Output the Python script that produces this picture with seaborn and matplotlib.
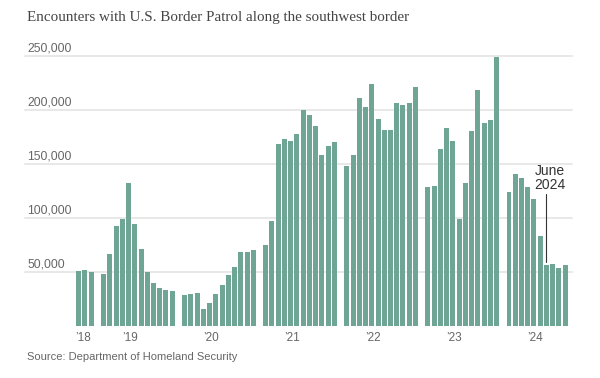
import pandas as pd
import seaborn as sns
import matplotlib.pyplot as plt
import matplotlib.transforms as mtransforms

# Monthly encounters (Oct 2018 - Oct 2024)
years = ["2018", "2019", "2020", "2021", "2022", "2023", "2024"]
enc_2018 = [51000, 51900, 50700]  # Oct-Dec
enc_2019 = [48000, 66500, 92800, 99300, 132900, 94900, 72000, 50700, 40500, 35400, 33500, 32900]
enc_2020 = [29200, 30100, 30400, 16200, 21600, 30000, 38100, 47300, 54800, 69000, 69200, 71100]
enc_2021 = [75300, 97600, 168800, 173500, 172000, 178400, 200700, 195600, 185500, 159000, 167000, 170800]
enc_2022 = [148000, 159000, 211000, 203000, 224000, 192000, 181500, 181500, 207000, 205000, 207000, 222000]
enc_2023 = [129000, 130000, 164000, 184000, 171600, 99400, 132700, 181000, 219000, 188600, 191000, 249800]
enc_2024 = [124200, 140600, 137500, 128900, 117900, 83500, 56400, 58000, 54000, 56500]  # Jan-Oct
year_labels = ["\u201918", "\u201919", "\u201920", "\u201921", "\u201922", "\u201923", "\u201924"]
y_ticks = [50000, 100000, 150000, 200000, 250000]

groups = [enc_2018, enc_2019, enc_2020, enc_2021, enc_2022, enc_2023, enc_2024]

# bars sit on slots, one empty slot between years
rows = []
starts = []
slot = 0
for yr, vals in zip(years, groups):
    starts.append(slot)
    for i, v in enumerate(vals):
        rows.append({"year": yr, "slot": slot + i, "encounters": v})
    slot += len(vals) + 1
df = pd.DataFrame(rows)

# year labels sit around the 5th month of each year
tick_pos = [starts[0] + 0.7] + [s + 4.2 for s in starts[1:]]

sns.set_theme(style="white")
plt.rcParams["font.family"] = ["Liberation Sans", "DejaVu Sans"]

bar_color = "#6fa594"
fig = plt.figure(figsize=(6, 3.78), dpi=100)
ax = fig.add_axes([25 / 600, 1 - 326.3 / 378, (572 - 25) / 600, (326.3 - 56.3) / 378])

sns.barplot(data=df, x="slot", y="encounters", native_scale=True, width=0.8,
            color=bar_color, saturation=1, linewidth=0, ax=ax, zorder=3)

ax.set_xlim(-8.6, 79.1)
ax.set_ylim(0, 250000)
for s in ax.spines.values():
    s.set_visible(False)

# gridlines with labels sitting above them
trans = mtransforms.blended_transform_factory(ax.transAxes, ax.transData)
for v in y_ticks:
    ax.axhline(v, color="#e8e8e8", lw=1.4, zorder=1, clip_on=False)
    ax.annotate(f"{v:,}", xy=(0, v), xycoords=trans, xytext=(1.5, 3.5),
                textcoords="offset points", ha="left", va="baseline",
                fontsize=8.7, color="#666666")
ax.set_yticks([])
ax.set_xticks(tick_pos, year_labels)
ax.tick_params(axis="x", length=0, pad=4, labelsize=8.5, labelcolor="#666666")
ax.set_xlabel("")
ax.set_ylabel("")

# June 2024 callout, pointing at the July bar
jul = df[(df.year == "2024")].iloc[6]
ax.plot([jul.slot, jul.slot], [jul.encounters + 3500, 122500], color="#333333", lw=0.8, zorder=4)
ax.text(jul.slot + 0.5, 124000, "June\n2024", ha="center", va="bottom",
        fontsize=10, color="#333333", linespacing=1.0, zorder=4)

fig.text(27 / 600, 1 - 17 / 378, "Encounters with U.S. Border Patrol along the southwest border",
         ha="left", va="center", fontsize=10.9, color="#444444", family=["Liberation Serif", "DejaVu Serif"])
fig.text(27 / 600, 1 - 357 / 378, "Source: Department of Homeland Security",
         ha="left", va="center", fontsize=8.0, color="#666666")

fig.savefig("out.png", dpi=100)
